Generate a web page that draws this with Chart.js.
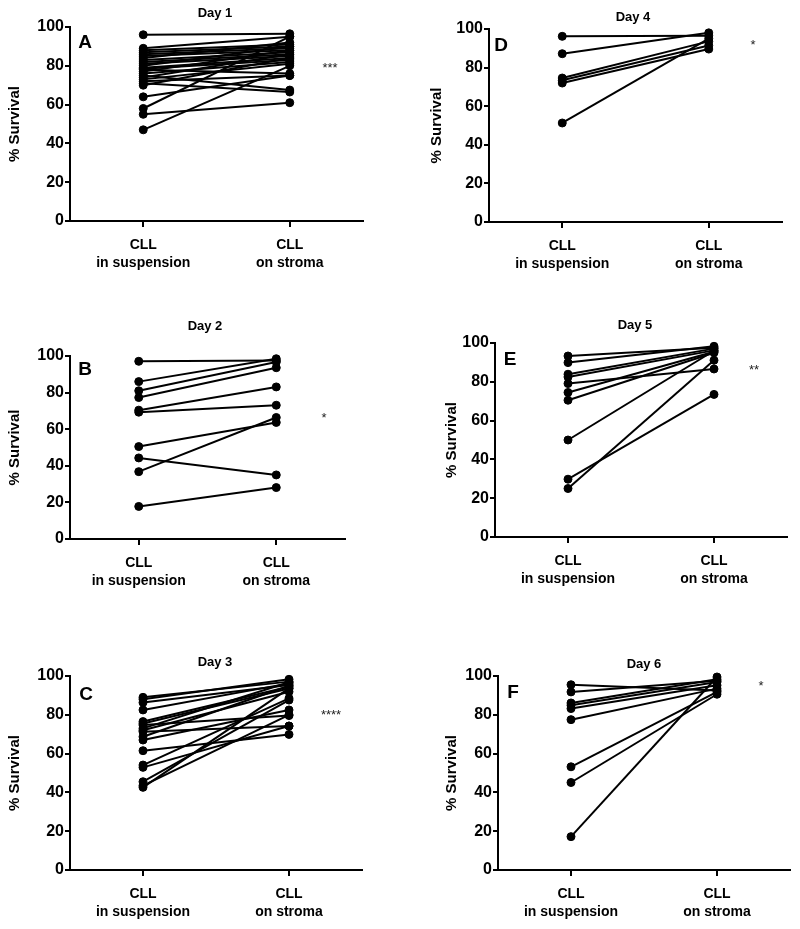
<!DOCTYPE html>
<html>
<head>
<meta charset="utf-8">
<title>CLL survival, suspension vs stroma</title>
<script src="https://cdn.jsdelivr.net/npm/chart.js@4"></script>
<style>
  body { margin: 0; background: #fff; width: 800px; height: 929px; position: relative; overflow: hidden; }
  canvas { position: absolute; }
</style>
</head>
<body>
<canvas id="dayA"></canvas>
<canvas id="dayB"></canvas>
<canvas id="dayC"></canvas>
<canvas id="dayD"></canvas>
<canvas id="dayE"></canvas>
<canvas id="dayF"></canvas>
<script>
// paired % survival, same patient = same index in both arrays
const categories = [['CLL', 'in suspension'], ['CLL', 'on stroma']];

const day1Suspension = [96, 89, 88, 87, 86, 85, 84, 83, 82, 81, 80, 79, 78.5, 78, 77, 76, 75, 74, 73, 72, 71, 70, 64, 58, 55, 47];
const day1Stroma     = [96.5, 95, 91, 90, 89, 88, 92, 87, 86, 85, 90, 84, 83, 76, 88, 82, 67.5, 86, 81, 75, 66.5, 84, 75, 95, 61, 80];

const day2Suspension = [97.1, 86, 81, 77.3, 70.4, 69.3, 50.5, 44.3, 36.8, 17.8];
const day2Stroma     = [97.5, 98.5, 96.7, 93.6, 83.1, 73.1, 63.7, 35, 66.4, 28.1];

const day3Suspension = [89, 88, 86.3, 82.5, 76.5, 75.5, 74.7, 73, 72, 71.3, 68.7, 67, 61.5, 54.1, 52.9, 45.5, 42.6, 43.5];
const day3Stroma     = [97.1, 98.3, 95.4, 96.2, 94.5, 93.6, 79.6, 96.8, 91.9, 74.2, 95, 82.5, 69.9, 88.5, 74.2, 87.6, 93.6, 80];

const day4Suspension = [96.2, 87.2, 74.6, 73.4, 72, 51.3];
const day4Stroma     = [96.5, 98, 93.6, 91.5, 89.6, 95];

const day5Suspension = [93.3, 89.9, 83.9, 82.5, 79.1, 74.5, 70.5, 50, 29.8, 25];
const day5Stroma     = [97.5, 98.3, 97.1, 96.2, 86.6, 95.5, 95, 96, 73.5, 91.1];

const day6Suspension = [95.5, 91.8, 86.1, 84.9, 83.2, 77.5, 53.2, 45.1, 17.2];
const day6Stroma     = [92.5, 97.5, 98.3, 96.9, 95.2, 93.5, 91.8, 90.6, 99.5];

// page layout of each panel (pixels)
const panels = [
  { id: 'dayA', susp: day1Suspension, strom: day1Stroma, title: 'Day 1', letter: 'A', stars: '***',
    axisX: 70, top: 27, bottom: 221, right: 363, yTitleX: 15, titlePos: [215, 13], letterPos: [85, 43], starsPos: [330, 72] },
  { id: 'dayB', susp: day2Suspension, strom: day2Stroma, title: 'Day 2', letter: 'B', stars: '*',
    axisX: 70, top: 356, bottom: 539, right: 345, yTitleX: 15, titlePos: [205, 326], letterPos: [85, 370], starsPos: [324, 422] },
  { id: 'dayC', susp: day3Suspension, strom: day3Stroma, title: 'Day 3', letter: 'C', stars: '****',
    axisX: 70, top: 676, bottom: 870, right: 362, yTitleX: 15, titlePos: [215, 662], letterPos: [86, 695], starsPos: [331, 719] },
  { id: 'dayD', susp: day4Suspension, strom: day4Stroma, title: 'Day 4', letter: 'D', stars: '*',
    axisX: 489, top: 29, bottom: 222, right: 782, yTitleX: 437, titlePos: [633, 17], letterPos: [501, 46], starsPos: [753, 49] },
  { id: 'dayE', susp: day5Suspension, strom: day5Stroma, title: 'Day 5', letter: 'E', stars: '**',
    axisX: 495, top: 343, bottom: 537, right: 787, yTitleX: 452, titlePos: [635, 325], letterPos: [510, 360], starsPos: [754, 374] },
  { id: 'dayF', susp: day6Suspension, strom: day6Stroma, title: 'Day 6', letter: 'F', stars: '*',
    axisX: 498, top: 676, bottom: 870, right: 790, yTitleX: 452, titlePos: [644, 664], letterPos: [513, 693], starsPos: [761, 690] }
];

const FONT = '"Liberation Sans", Arial, sans-serif';
Chart.defaults.font.family = FONT;
Chart.defaults.color = '#000';

const panelText = {
  id: 'panelText',
  afterDraw(chart, args, o) {
    const ctx = chart.ctx;
    ctx.save();
    ctx.fillStyle = '#000';
    ctx.textAlign = 'center';
    ctx.textBaseline = 'middle';
    ctx.font = 'bold 13px ' + FONT;
    ctx.fillText(o.title, o.titlePos[0] - o.ox, o.titlePos[1] - o.oy);
    ctx.font = 'bold 19px ' + FONT;
    ctx.fillText(o.letter, o.letterPos[0] - o.ox, o.letterPos[1] - o.oy);
    ctx.textBaseline = 'alphabetic';
    ctx.font = '13px ' + FONT;
    ctx.fillStyle = '#222';
    ctx.fillText(o.stars, o.starsPos[0] - o.ox, o.starsPos[1] - o.oy);
    ctx.restore();
  }
};

const X_AXIS_H = 60, PAD_RIGHT = 15;

panels.forEach(p => {
  const L = p.yTitleX - 13;
  const padTop = Math.min(p.top, 40);
  const T = p.top - padTop;
  const W = p.right - L + PAD_RIGHT;
  const H = padTop + (p.bottom - p.top) + X_AXIS_H;
  const canvas = document.getElementById(p.id);
  canvas.width = W; canvas.height = H;
  canvas.style.left = L + 'px'; canvas.style.top = T + 'px';

  const datasets = p.susp.map((v, i) => ({
    data: [v, p.strom[i]],
    borderColor: '#000',
    backgroundColor: '#000',
    borderWidth: 2,
    pointRadius: 4,
    pointBorderWidth: 1,
    clip: false
  }));

  new Chart(canvas, {
    type: 'line',
    data: { labels: categories, datasets },
    plugins: [panelText],
    options: {
      responsive: false,
      devicePixelRatio: 1,
      animation: false,
      layout: { padding: { top: padTop, right: PAD_RIGHT, left: 0, bottom: 0 } },
      plugins: {
        legend: { display: false },
        tooltip: { enabled: false },
        panelText: { title: p.title, letter: p.letter, stars: p.stars, titlePos: p.titlePos,
                     letterPos: p.letterPos, starsPos: p.starsPos, ox: L, oy: T }
      },
      scales: {
        x: {
          type: 'category',
          offset: true,
          grid: { display: true, offset: false, drawOnChartArea: false, drawTicks: true, tickLength: 6, color: '#000', lineWidth: 2 },
          border: { display: true, color: '#000', width: 2 },
          ticks: { padding: 9, color: '#000', maxRotation: 0, font: { size: 14, weight: 'bold', lineHeight: 1.3 } },
          afterFit: s => { s.height = X_AXIS_H; }
        },
        y: {
          min: 0, max: 100,
          grid: { display: true, drawOnChartArea: false, drawTicks: true, tickLength: 5, color: '#000', lineWidth: 2 },
          border: { display: true, color: '#000', width: 2 },
          ticks: { stepSize: 20, padding: 1, color: '#000', font: { size: 16, weight: 'bold' } },
          title: { display: true, text: '% Survival', color: '#000', font: { size: 15, weight: 'bold' }, padding: { top: 4, bottom: 4 } },
          afterFit: s => { s.width = p.axisX - L; }
        }
      }
    }
  });
});
</script>
</body>
</html>
